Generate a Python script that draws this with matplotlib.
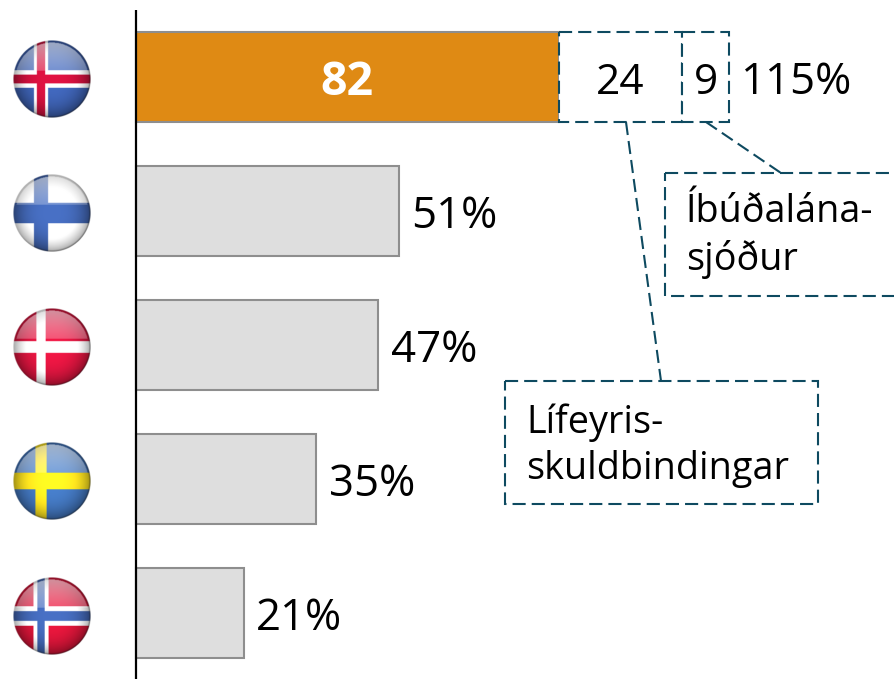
import numpy as np
import matplotlib
matplotlib.use('Agg')
import matplotlib.pyplot as plt

countries = ['Iceland', 'Finland', 'Denmark', 'Sweden', 'Norway']
values = [82, 51, 47, 35, 21]
extra_values = [24, 9]
labels = ['115%', '51%', '47%', '35%', '21%']
callout_1 = 'Íbúðalána-\nsjóður'
callout_2 = 'Lífeyris-\nskuldbindingar'

plt.rcParams['font.family'] = ['Open Sans', 'DejaVu Sans']

W, H = 894, 679
fig = plt.figure(figsize=(W / 100, H / 100), dpi=100)

# value axis: 0 sits on the black line, 5.16 px for each unit
ax = fig.add_axes([0, 0, 1, 1])
ax.set_xlim(-135.5 / 5.16, (W - 135.5) / 5.16)
ax.set_ylim((H - 77.2) / 134, -77.2 / 134)
ax.axis('off')

# overlay in pixel coordinates for flags and callouts
px = fig.add_axes([0, 0, 1, 1], zorder=3)
px.patch.set_alpha(0)
px.axis('off')

ORANGE = '#df8a14'
GREY = '#dedede'
EDGE = '#8e8e8e'
TEAL = '#0e4a60'
DASH = (0, (6.3, 2.9))

y_pos = np.arange(len(values))
colors = [ORANGE] + [GREY] * 4
ax.barh(y_pos, values, height=0.67, color=colors, edgecolor=EDGE, linewidth=1.5, zorder=2)

left = values[0]
for v in extra_values:
    ax.barh(0, v, left=left, height=0.67, facecolor='white', edgecolor=TEAL,
            linewidth=1.5, linestyle=DASH, zorder=3)
    ax.text(left + v / 2, 0.04, str(v), ha='center', va='center', fontsize=30.5, color='black')
    left += v

ax.text(values[0] / 2, 0.04, str(values[0]), ha='center', va='center', fontsize=33.5,
        fontweight='bold', color='white', zorder=4)

ends = [left] + values[1:]
for y, end, lab in zip(y_pos, ends, labels):
    ax.annotate(lab, (end, y + 0.045), xytext=(9, 0), textcoords='offset points',
                ha='left', va='center', fontsize=31.5, color='black')

ax.plot([0, 0], [-0.5, ax.get_ylim()[0]], color='black', lw=1.6, zorder=5, solid_capstyle='butt')


def flag(cx, cy, bg, cross, inner=None):
    # cross = (colour, half width of vertical arm, half width of horizontal arm)
    n = 160
    r = 39
    xs, ys = np.meshgrid(np.linspace(-1, 1, n), np.linspace(-1, 1, n))
    d = np.hypot(xs, ys)
    img = np.ones((n, n, 3)) * np.array(matplotlib.colors.to_rgb(bg))
    vx = -11 / r
    for spec in [cross, inner]:
        if spec is None:
            continue
        c, hv, hh = spec
        mask = (np.abs(xs - vx) < hv / r) | (np.abs(ys) < hh / r)
        img[mask] = matplotlib.colors.to_rgb(c)
    # bright centre, darker rim
    light = 1.15 - 0.5 * np.clip(d, 0, 1) ** 3
    img = np.clip(img * light[..., None], 0, 1)
    # glossy top part, stops above the horizontal arm
    gloss = np.clip(0.56 - 0.3 * (ys + 1) / 0.8, 0, 1)
    gloss = gloss * (ys < -0.22) * (d < 0.94)
    img = img + (1 - img) * gloss[..., None]
    # soft grey shadow on the lower right edge
    rim = np.clip((d - 0.95) / 0.05, 0, 1) * np.clip((xs + ys) * 0.7 + 0.4, 0, 1) * 0.55
    img = img * (1 - rim[..., None])
    alpha = np.clip((1 - d) * n / 2, 0, 1)
    rgba = np.dstack([img, alpha])
    px.imshow(rgba, extent=(cx - r, cx + r, cy + r, cy - r), aspect='auto',
              interpolation='bilinear', zorder=2)


flag(52, 79, '#3a5ca8', ('white', 7, 9), ('#c4103a', 4, 4.5))
flag(52, 213.5, '#ffffff', ('#3f62ac', 7, 10.5))
flag(52, 347.5, '#d3143c', ('white', 4.8, 5.8))
flag(52, 481.5, '#3f70b4', ('#f5dc1e', 5.5, 8.5))
flag(52, 616, '#cf1436', ('white', 7.5, 10), ('#3f62ac', 3.7, 5))

px.set_xlim(0, W)
px.set_ylim(H, 0)

# callouts
px.plot([706, 781], [122, 173], color=TEAL, lw=1.5, linestyle=DASH)
px.plot([626, 661], [122, 381], color=TEAL, lw=1.5, linestyle=DASH)
px.add_patch(plt.Rectangle((665, 173), 260, 123, fill=False, edgecolor=TEAL, lw=1.5, linestyle=DASH))
px.add_patch(plt.Rectangle((505, 381), 313, 123, fill=False, edgecolor=TEAL, lw=1.5, linestyle=DASH))
px.text(686, 236, callout_1, ha='left', va='center', fontsize=27.2, linespacing=1.28, color='black')
px.text(526, 446, callout_2, ha='left', va='center', fontsize=27.2, linespacing=1.28, color='black')

fig.savefig('out.png', dpi=100)
